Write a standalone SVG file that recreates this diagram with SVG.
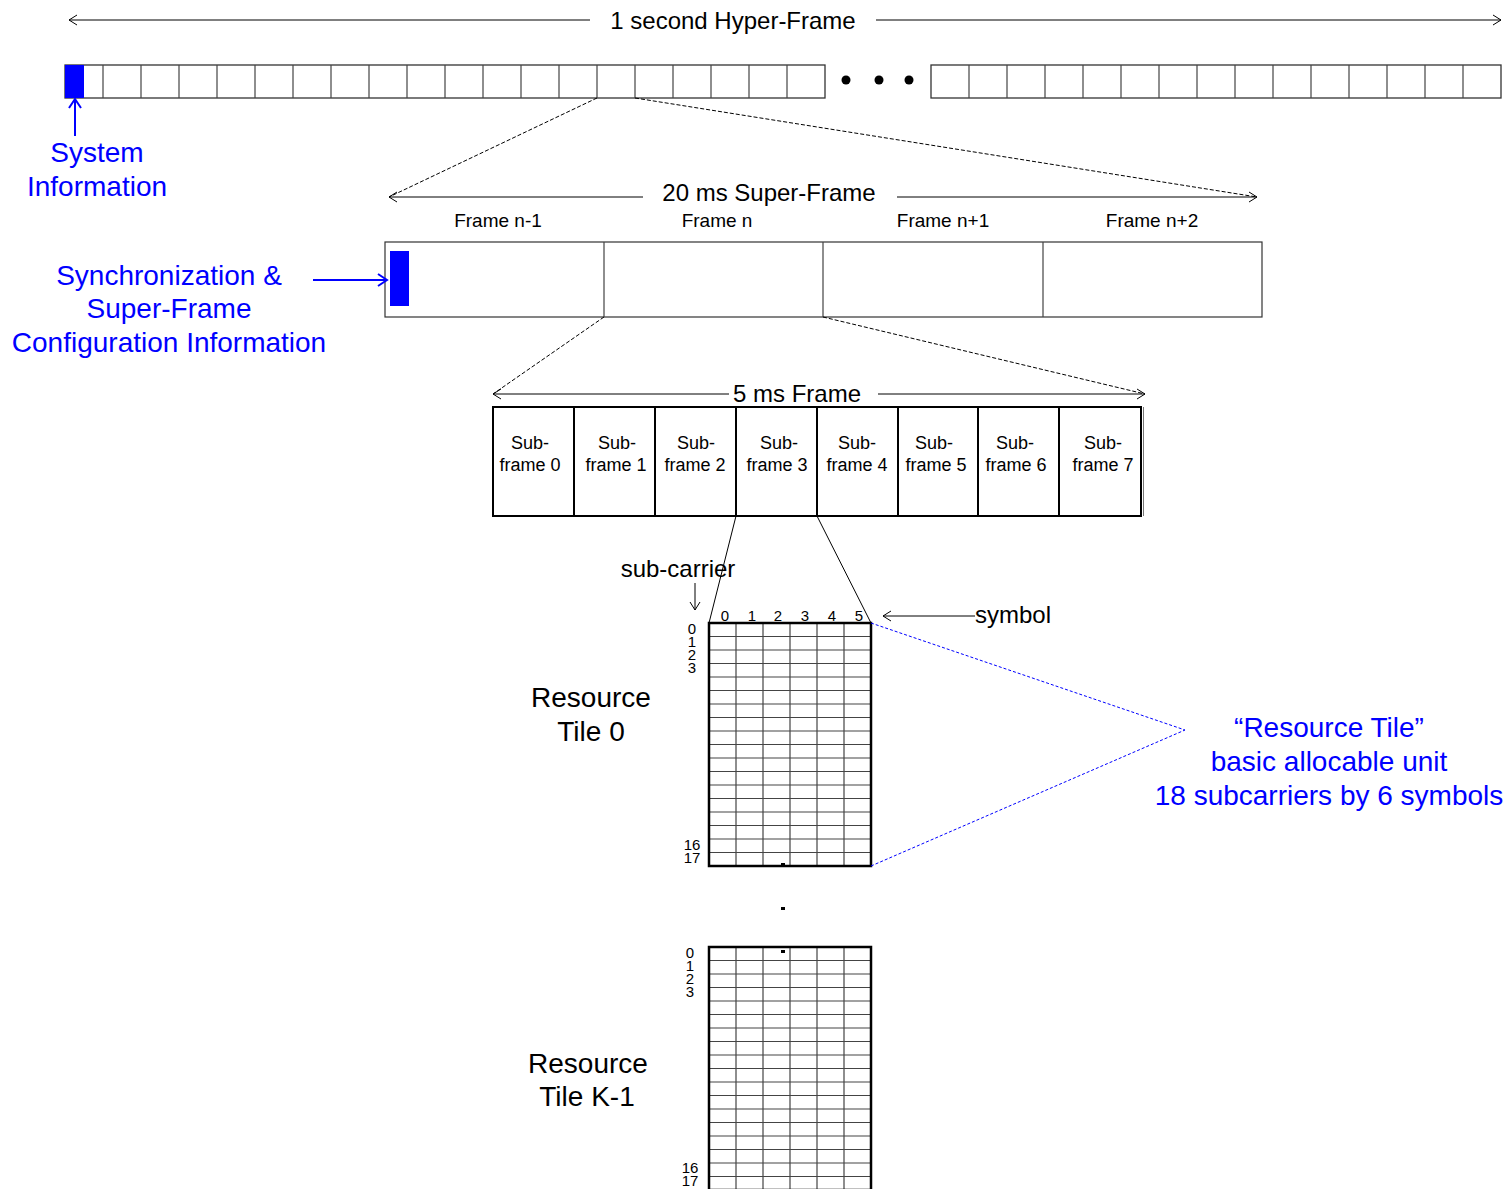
<svg xmlns="http://www.w3.org/2000/svg" xmlns:xlink="http://www.w3.org/1999/xlink" width="1509" height="1189" viewBox="0 0 1509 1189">
<style>
  text { font-family: "Liberation Sans", Arial, sans-serif; fill: #000; }
  .blue { fill: #0000ff; }
  .t22 { font-size: 24px; }
  .t28 { font-size: 28px; }
  .t24 { font-size: 24px; }
  .t19 { font-size: 19px; }
  .t18 { font-size: 18px; }
  .num { font-size: 15px; }
  .mid { text-anchor: middle; }
  .cell { fill: #fff; stroke: #333; stroke-width: 1.3; }
  .line { stroke: #000; stroke-width: 1; fill: none; }
  .dash { stroke: #000; stroke-width: 1; fill: none; stroke-dasharray: 4 2; }
  .bdash { stroke: #0000ff; stroke-width: 1; fill: none; stroke-dasharray: 3 2; }
  .thin { stroke: #444; stroke-width: 1.2; fill: none; }
  .thick { stroke: #000; stroke-width: 2.5; fill: none; }
  .barrow { stroke: #0000ff; stroke-width: 2; fill: none; }
</style>
<defs>
  <marker id="open" viewBox="-10 -6 12 12" refX="0" refY="0" markerWidth="12" markerHeight="12" markerUnits="userSpaceOnUse" orient="auto-start-reverse">
    <path d="M-8,-5 L0,0 L-8,5" fill="none" stroke="#000" stroke-width="1"/>
  </marker>
  <marker id="openb" viewBox="-12 -8 14 16" refX="0" refY="0" markerWidth="14" markerHeight="16" markerUnits="userSpaceOnUse" orient="auto-start-reverse">
    <path d="M-9,-6 L0,0 L-9,6" fill="none" stroke="#0000ff" stroke-width="2"/>
  </marker>
  <g id="tilegrid">
    <path class="thin" d="M736,0 V243 M763,0 V243 M790,0 V243 M817,0 V243 M844,0 V243
      M709,13.5 H871 M709,27 H871 M709,40.5 H871 M709,54 H871 M709,67.5 H871 M709,81 H871
      M709,94.5 H871 M709,108 H871 M709,121.5 H871 M709,135 H871 M709,148.5 H871 M709,162 H871
      M709,175.5 H871 M709,189 H871 M709,202.5 H871 M709,216 H871 M709,229.5 H871"/>
    <rect class="thick" x="709" y="0" width="162" height="243"/>
  </g>
</defs>

<!-- Hyper-frame -->
<g id="hyperframe">
  <rect class="cell" x="65" y="65" width="760" height="33"/>
  <path class="thin" d="M103,65 V98 M141,65 V98 M179,65 V98 M217,65 V98 M255,65 V98 M293,65 V98 M331,65 V98 M369,65 V98 M407,65 V98 M445,65 V98 M483,65 V98 M521,65 V98 M559,65 V98 M597,65 V98 M635,65 V98 M673,65 V98 M711,65 V98 M749,65 V98 M787,65 V98"/>
  <rect x="65" y="65" width="19" height="33" fill="#0000ff"/>
  <circle cx="846" cy="80" r="4.5" fill="#000"/>
  <circle cx="879" cy="80" r="4.5" fill="#000"/>
  <circle cx="909" cy="80" r="4.5" fill="#000"/>
  <rect class="cell" x="931" y="65" width="570" height="33"/>
  <path class="thin" d="M969,65 V98 M1007,65 V98 M1045,65 V98 M1083,65 V98 M1121,65 V98 M1159,65 V98 M1197,65 V98 M1235,65 V98 M1273,65 V98 M1311,65 V98 M1349,65 V98 M1387,65 V98 M1425,65 V98 M1463,65 V98"/>
  <text class="t22 mid" x="733" y="29">1 second Hyper-Frame</text>
</g>

<g id="system-info">
  <text class="t28 mid blue" x="97" y="162">System</text>
  <text class="t28 mid blue" x="97" y="196">Information</text>
</g>

<!-- Super-frame -->
<g id="superframe">
  <rect x="385" y="242" width="877" height="75" fill="#fff" stroke="#333" stroke-width="1.2"/>
  <path class="thin" d="M604,242 V317 M823,242 V317 M1043,242 V317"/>
  <rect x="390" y="251" width="19" height="55" fill="#0000ff"/>
  <text class="t22 mid" x="769" y="201">20 ms Super-Frame</text>
  <text class="t19 mid" x="498" y="227">Frame n-1</text>
  <text class="t19 mid" x="717" y="227">Frame n</text>
  <text class="t19 mid" x="943" y="227">Frame n+1</text>
  <text class="t19 mid" x="1152" y="227">Frame n+2</text>
</g>

<g id="sync-info">
  <text class="t28 mid blue" x="169" y="285">Synchronization &amp;</text>
  <text class="t28 mid blue" x="169" y="318">Super-Frame</text>
  <text class="t28 mid blue" x="169" y="352">Configuration Information</text>
</g>

<!-- 5 ms frame -->
<g id="frame">
  <rect x="493" y="407" width="648" height="109" fill="#fff" stroke="#000" stroke-width="2"/>
  <path stroke="#000" stroke-width="2" fill="none" d="M574,407 V516 M655,407 V516 M736,407 V516 M817,407 V516 M898,407 V516 M978,407 V516 M1059,407 V516"/>
  <path stroke="#777" stroke-width="1" d="M1143.5,407 V516"/>
  <text class="t22 mid" x="797" y="402">5 ms Frame</text>
  <g class="t18" xml:space="preserve">
    <text class="mid" x="530" y="449">Sub-</text><text class="mid" x="530" y="471">frame  0</text>
    <text class="mid" x="617" y="449">Sub-</text><text class="mid" x="616" y="471">frame  1</text>
    <text class="mid" x="696" y="449">Sub-</text><text class="mid" x="695" y="471">frame  2</text>
    <text class="mid" x="779" y="449">Sub-</text><text class="mid" x="777" y="471">frame  3</text>
    <text class="mid" x="857" y="449">Sub-</text><text class="mid" x="857" y="471">frame  4</text>
    <text class="mid" x="934" y="449">Sub-</text><text class="mid" x="936" y="471">frame  5</text>
    <text class="mid" x="1015" y="449">Sub-</text><text class="mid" x="1016" y="471">frame  6</text>
    <text class="mid" x="1103" y="449">Sub-</text><text class="mid" x="1103" y="471">frame  7</text>
  </g>
</g>

<!-- Resource tile 0 -->
<g id="tile0">
  <use xlink:href="#tilegrid" href="#tilegrid" transform="translate(0,623)"/>
  <g class="num mid">
    <text x="725" y="621">0</text><text x="752" y="621">1</text><text x="778" y="621">2</text>
    <text x="805" y="621">3</text><text x="832" y="621">4</text><text x="859" y="621">5</text>
    <text x="692" y="634">0</text><text x="692" y="647">1</text><text x="692" y="660">2</text><text x="692" y="673">3</text>
    <text x="692" y="850">16</text><text x="692" y="863">17</text>
  </g>
  <text class="t28 mid" x="591" y="707">Resource</text>
  <text class="t28 mid" x="591" y="741">Tile 0</text>
  <text class="t24 mid" x="678" y="577">sub-carrier</text>
  <text class="t24" x="975" y="623">symbol</text>
  <rect x="781" y="863" width="4" height="3" fill="#000"/>
</g>

<g id="ellipsis-dots">
  <rect x="781" y="907" width="4" height="3" fill="#000"/>
  <rect x="781" y="950" width="4" height="3" fill="#000"/>
</g>

<!-- Resource tile K-1 -->
<g id="tileK1">
  <use xlink:href="#tilegrid" href="#tilegrid" transform="translate(0,947)"/>
  <g class="num mid">
    <text x="690" y="958">0</text><text x="690" y="971">1</text><text x="690" y="984">2</text><text x="690" y="997">3</text>
    <text x="690" y="1173">16</text><text x="690" y="1186">17</text>
  </g>
  <text class="t28 mid" x="588" y="1073">Resource</text>
  <text class="t28 mid" x="587" y="1106">Tile K-1</text>
</g>

<g id="tile-note">
  <text class="t28 mid blue" x="1329" y="737">“Resource Tile”</text>
  <text class="t28 mid blue" x="1329" y="771">basic allocable unit</text>
  <text class="t28 mid blue" x="1329" y="805">18 subcarriers by 6 symbols</text>
</g>

<!-- Connectors -->
<g id="connectors">
  <line class="line" x1="590" y1="20" x2="69" y2="20" marker-end="url(#open)"/>
  <line class="line" x1="876" y1="20" x2="1501" y2="20" marker-end="url(#open)"/>
  <line class="barrow" x1="75" y1="136" x2="75" y2="99" marker-end="url(#openb)"/>
  <line class="dash" x1="597" y1="98" x2="389" y2="197"/>
  <line class="dash" x1="635" y1="98" x2="1257" y2="197"/>
  <line class="line" x1="643" y1="197" x2="389" y2="197" marker-end="url(#open)"/>
  <line class="line" x1="897" y1="197" x2="1257" y2="197" marker-end="url(#open)"/>
  <line class="barrow" x1="313" y1="280" x2="387" y2="280" marker-end="url(#openb)"/>
  <line class="dash" x1="604" y1="317" x2="493" y2="394"/>
  <line class="dash" x1="823" y1="317" x2="1145" y2="394"/>
  <line class="line" x1="729" y1="394" x2="493" y2="394" marker-end="url(#open)"/>
  <line class="line" x1="878" y1="394" x2="1145" y2="394" marker-end="url(#open)"/>
  <line class="line" x1="736" y1="516" x2="709" y2="623"/>
  <line class="line" x1="817" y1="516" x2="871" y2="623"/>
  <line class="line" x1="695" y1="583" x2="695" y2="610" marker-end="url(#open)"/>
  <line class="line" x1="975" y1="616" x2="883" y2="616" marker-end="url(#open)"/>
  <line class="bdash" x1="871" y1="623" x2="1185" y2="730"/>
  <line class="bdash" x1="871" y1="866" x2="1185" y2="730"/>
</g>
</svg>
